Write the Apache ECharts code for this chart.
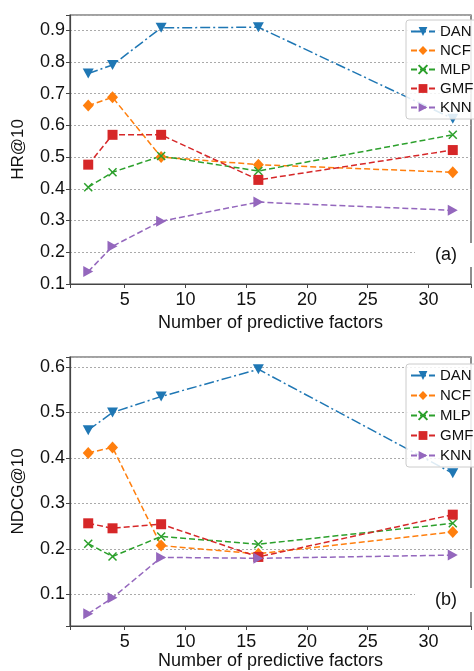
<!DOCTYPE html>
<html>
<head>
<meta charset="utf-8">
<script src="https://cdn.jsdelivr.net/npm/echarts@6/dist/echarts.min.js"></script>
<style>html,body{margin:0;padding:0;background:#fff}#c{width:474px;height:671px}</style>
</head>
<body>
<div id="c"></div>
<script>
const xValues = [2, 4, 8, 16, 32];
const seriesNames = ['DAN', 'NCF', 'MLP', 'GMF', 'KNN'];
const hrDAN = [0.763, 0.790, 0.907, 0.909, 0.621];
const hrNCF = [0.662, 0.688, 0.500, 0.476, 0.452];
const hrMLP = [0.405, 0.452, 0.503, 0.456, 0.570];
const hrGMF = [0.476, 0.570, 0.570, 0.428, 0.522];
const hrKNN = [0.139, 0.219, 0.298, 0.358, 0.332];
const ndDAN = [0.461, 0.500, 0.535, 0.595, 0.366];
const ndNCF = [0.411, 0.423, 0.207, 0.189, 0.237];
const ndMLP = [0.211, 0.183, 0.227, 0.210, 0.256];
const ndGMF = [0.256, 0.245, 0.254, 0.182, 0.275];
const ndKNN = [0.057, 0.092, 0.181, 0.179, 0.186];
const xAxisName = 'Number of predictive factors';
const yAxisNames = ['HR@10', 'NDCG@10'];
const panelLabels = ['(a)', '(b)'];

const FONT = "'Liberation Sans', Arial, sans-serif";
const colors = {DAN:'#1f77b4', NCF:'#ff7f0e', MLP:'#2ca02c', GMF:'#d62728', KNN:'#9467bd'};
const styles = {
  DAN: {symbol:'triangle', rot:180, size:[11,10], dash:[10,3,2,3]},
  NCF: {symbol:'diamond', rot:0, size:[11,12], dash:[6,3]},
  MLP: {symbol:'path://M0,0L10,10M10,0L0,10', rot:0, size:8, dash:[6,3]},
  GMF: {symbol:'rect', rot:0, size:10, dash:[6,3]},
  KNN: {symbol:'triangle', rot:-90, size:[11,10], dash:[6,3]}
};
const hrData = {DAN:hrDAN, NCF:hrNCF, MLP:hrMLP, GMF:hrGMF, KNN:hrKNN};
const ndData = {DAN:ndDAN, NCF:ndNCF, MLP:ndMLP, GMF:ndGMF, KNN:ndKNN};

function pairs(vals){ return xValues.map((x,i)=>[x, vals[i]]); }

const series = [];
[hrData, ndData].forEach((d, gi) => {
  seriesNames.forEach(n => {
    const s = styles[n];
    series.push({
      name: n, type: 'line', xAxisIndex: gi, yAxisIndex: gi,
      data: pairs(d[n]),
      symbol: s.symbol, symbolRotate: s.rot, symbolSize: s.size,
      showAllSymbol: true,
      itemStyle: {color: colors[n], borderColor: colors[n], borderWidth: n === 'MLP' ? 1.5 : 0},
      lineStyle: {color: colors[n], width: 1.5, type: s.dash},
      emphasis: {disabled: true},
      animation: false
    });
  });
});

function xAxis(gi, nameGap){
  return {
    type:'value', gridIndex: gi, min: 0.5, max: 33.5, splitNumber: 6,
    name: xAxisName, nameLocation:'middle', nameGap: nameGap,
    nameTextStyle:{fontSize:18, color:'#111', fontFamily:FONT},
    axisLine:{show:true, lineStyle:{color:'#444', width:1.2}},
    axisTick:{show:true, inside:false, length:4, lineStyle:{color:'#444'}},
    axisLabel:{fontSize:18, color:'#111', fontFamily:FONT, margin:7, showMinLabel:true, showMaxLabel:true,
      formatter: v => (Math.abs(v/5 - Math.round(v/5)) < 1e-6 ? String(Math.round(v)) : '')},
    splitLine:{show:false}
  };
}
function yAxis(gi, min, max, name){
  return {
    type:'value', gridIndex: gi, min: min, max: max, splitNumber: 6,
    name: name, nameLocation:'middle', nameGap: 43, nameRotate: 90,
    nameTextStyle:{fontSize:17, color:'#111', fontFamily:FONT},
    axisLine:{show:true, lineStyle:{color:'#444', width:1.2}},
    axisTick:{show:true, length:4, lineStyle:{color:'#444'}},
    axisLabel:{fontSize:18, color:'#111', fontFamily:FONT, margin:5, showMinLabel:true, showMaxLabel:true,
      formatter: v => (Math.abs(v*10 - Math.round(v*10)) < 1e-6 ? v.toFixed(1) : '')},
    splitLine:{show:true, lineStyle:{color:'#aaa', width:1, type:[2,2]}}
  };
}

function legend(top, gap){
  return {
    data: seriesNames, orient:'vertical', left: 406, top: top,
    itemWidth: 24, itemHeight: 11, itemGap: gap,
    padding:[4,8,4,4],
    backgroundColor:'rgba(255,255,255,0.85)', borderColor:'#ccc', borderWidth:1, borderRadius:3,
    textStyle:{fontSize:15, color:'#111', fontFamily:FONT, padding:[0,0,0,0]},
    selectedMode:false
  };
}

const option = {
  animation:false,
  backgroundColor:'#fff',
  grid:[
    {left:70, right:-7, top:15, bottom:387, show:true, borderColor:'#444', borderWidth:1.2, backgroundColor:'transparent'},
    {left:70, right:-7, top:357, bottom:45, show:true, borderColor:'#444', borderWidth:1.2, backgroundColor:'transparent'}
  ],
  xAxis:[xAxis(0, 30), xAxis(1, 26)],
  yAxis:[yAxis(0, 0.1, 0.9475, yAxisNames[0]), yAxis(1, 0.03, 0.622, yAxisNames[1])],
  legend:[legend(20, 4), legend(364, 5)],
  graphic:[
    {type:'rect', z:100, shape:{x:415, y:243, width:60, height:24}, style:{fill:'#fff'}},
    {type:'text', z:101, style:{text:panelLabels[0], x:446, y:255, textAlign:'center', textVerticalAlign:'middle', font:'18px ' + FONT, fill:'#111'}},
    {type:'rect', z:100, shape:{x:415, y:588, width:60, height:24}, style:{fill:'#fff'}},
    {type:'text', z:101, style:{text:panelLabels[1], x:446, y:600, textAlign:'center', textVerticalAlign:'middle', font:'18px ' + FONT, fill:'#111'}}
  ],
  series: series
};
const chart = echarts.init(document.getElementById('c'), null, {renderer:'canvas'});
chart.setOption(option);
</script>
</body>
</html>
